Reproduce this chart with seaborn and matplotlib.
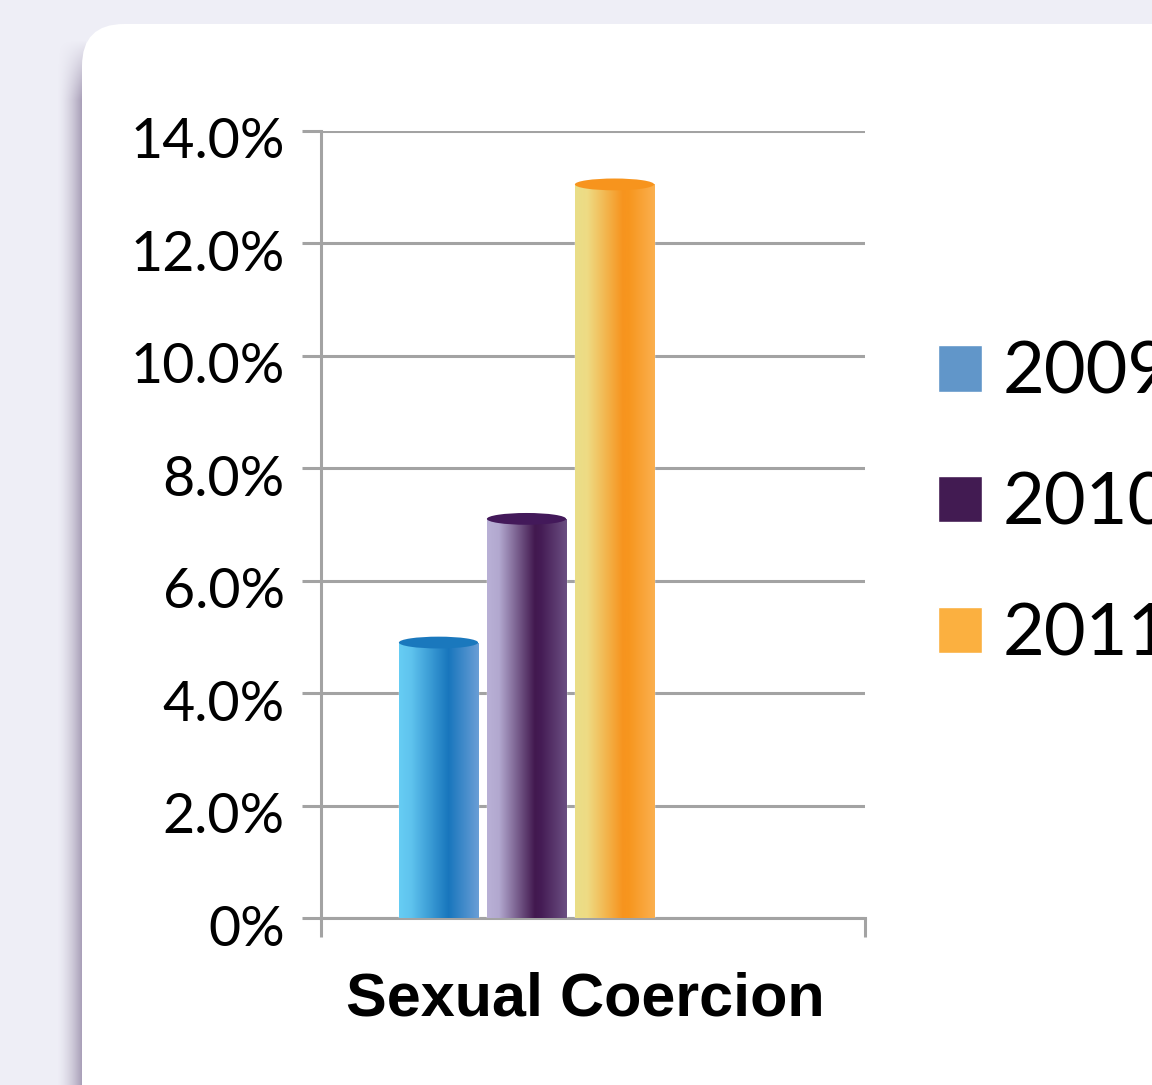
import numpy as np
import pandas as pd
import matplotlib
matplotlib.use('Agg')
import matplotlib.pyplot as plt
import seaborn as sns
from matplotlib.patches import FancyBboxPatch, Ellipse
from matplotlib.colors import LinearSegmentedColormap, to_rgb
from matplotlib.transforms import ScaledTranslation

# Data (values in percent)
categories = ['Sexual Coercion']
years = ['2009', '2010', '2011']
rates = [4.9, 7.1, 13.05]
y_ticks = [0, 2, 4, 6, 8, 10, 12, 14]
y_tick_labels = ['0%', '2.0%', '4.0%', '6.0%', '8.0%', '10.0%', '12.0%', '14.0%']

# Colours: flat legend swatches, cylinder shading stops, cylinder tops
legend_colors = ['#6196c9', '#421b52', '#fbb040']
bar_gradients = [
    [(0.0, '#66cdf4'), (0.15, '#5fc3ee'), (0.62, '#1876bd'), (1.0, '#6a9ed6')],
    [(0.0, '#b9b1d6'), (0.15, '#b2a8cf'), (0.60, '#42194f'), (0.68, '#451c55'), (1.0, '#6b4f82')],
    [(0.0, '#e9de88'), (0.15, '#eedb84'), (0.60, '#f7941e'), (0.68, '#f7961f'), (1.0, '#fbb04f')],
]
top_colors = ['#1a78bd', '#43195a', '#f7941d']
grid_color = '#a3a3a3'

df = pd.DataFrame({
    'category': categories * len(years),
    'year': years,
    'rate': rates,
})

sns.set_theme(style='white')
plt.rcParams['font.family'] = ['Lato', 'DejaVu Sans']
plt.rcParams['text.color'] = 'black'

fig = plt.figure(figsize=(11.52, 10.85), dpi=100, facecolor='#eeeef6')

# background: lavender page, soft left shadow, white rounded card
bg = fig.add_axes([0, 0, 1, 1], zorder=-10)
bg.set_xlim(0, 1152)
bg.set_ylim(1085, 0)
bg.axis('off')
ramp = 0.72 * np.linspace(0, 1, 30) ** 1.6
fade = np.clip((np.arange(40, 1085) - 40) / 60.0, 0, 1)
shadow = np.zeros((len(fade), len(ramp), 4))
shadow[..., :3] = to_rgb('#76658a')
shadow[..., 3] = fade[:, None] * ramp[None, :]
bg.imshow(shadow, extent=[56, 86, 1085, 40], aspect='auto', interpolation='bilinear')
bg.add_patch(FancyBboxPatch((82, 24), 1300, 1300, boxstyle='round,pad=0,rounding_size=42',
                            fc='white', ec='none'))

ax = fig.add_axes([321 / 1152, 167 / 1085, 544 / 1152, 787 / 1085])
ax.patch.set_alpha(0)

sns.barplot(data=df, x='category', y='rate', hue='year', palette=legend_colors,
            width=0.8, gap=0.1, saturation=1, ax=ax, zorder=3)

# cylinder look: shaded body + elliptical cap
cap_h = 0.21
for patch, stops, top in zip(ax.patches, bar_gradients, top_colors):
    x0, w, h = patch.get_x(), patch.get_width(), patch.get_height()
    cmap = LinearSegmentedColormap.from_list('cyl', stops)
    grad = np.linspace(0, 1, 256)[None, :]
    im = ax.imshow(grad, cmap=cmap, extent=[x0, x0 + w, 0, h], aspect='auto',
                   zorder=4, interpolation='bilinear')
    im.set_clip_path(patch)
    ax.add_patch(Ellipse((x0 + w / 2, h), w, cap_h, fc=top, ec='none', zorder=5))

xlim = (-0.6227, 1.0258)
ax.set_xlim(*xlim)
ax.set_ylim(0, 14)
ax.set_yticks(y_ticks)
ax.set_yticklabels(y_tick_labels)
ax.set_xticks(list(xlim))
ax.set_xticklabels(['', ''])

ax.set_axisbelow(True)
ax.yaxis.grid(True, color=grid_color, linewidth=2.2)
ax.xaxis.grid(False)
for side in ['top', 'right']:
    ax.spines[side].set_visible(False)
for side in ['left', 'bottom']:
    ax.spines[side].set_color(grid_color)
    ax.spines[side].set_linewidth(2.2)
    ax.spines[side].set_zorder(2)
ax.tick_params(axis='both', direction='out', length=14, width=2.2, color=grid_color,
               bottom=True, left=True)
ax.tick_params(axis='y', labelsize=40, pad=12, labelcolor='black')
shift = ScaledTranslation(0, -7 / 100, fig.dpi_scale_trans)
for lbl in ax.get_yticklabels():
    lbl.set_fontfamily(['Lato', 'DejaVu Sans'])
    lbl.set_transform(lbl.get_transform() + shift)

ax.set_xlabel('Sexual Coercion', fontsize=44, fontweight='bold',
              family=['Liberation Sans', 'DejaVu Sans'], color='black', va='top')
ax.xaxis.set_label_coords((585 - 321) / 544, -0.068)
ax.set_ylabel('')

handles, labels = ax.get_legend_handles_labels()
leg = ax.legend(handles, labels, loc='center left', bbox_to_anchor=(938 / 1152, 1 - 504 / 1085),
                bbox_transform=fig.transFigure, frameon=False,
                prop={'family': ['Lato', 'DejaVu Sans'], 'size': 52},
                handlelength=0.61, handleheight=0.61, handletextpad=0.29,
                labelspacing=0.91, borderpad=0, borderaxespad=0)
for t in leg.get_texts():
    t.set_color('black')

fig.savefig('out.png', dpi=100, facecolor=fig.get_facecolor())
